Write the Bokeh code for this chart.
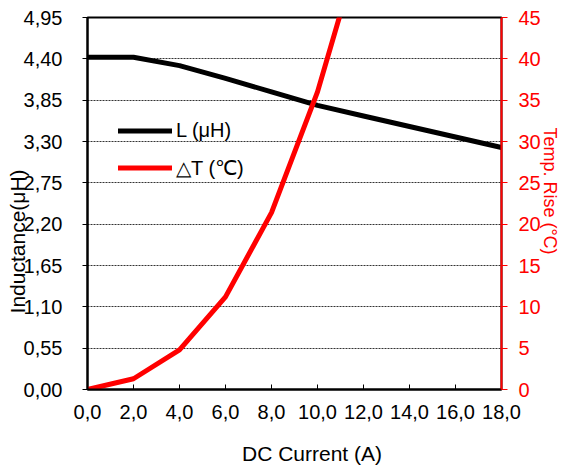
import math
from bokeh.plotting import figure
from bokeh.models import Range1d, LinearAxis, FixedTicker, Legend, LegendItem
from bokeh.embed import file_html
from bokeh.resources import INLINE

# ---- data ----
current = [0, 2, 4, 6, 8, 10, 12, 14, 16, 18]
inductance = [4.42, 4.42, 4.31, 4.14, 3.96, 3.78, 3.64, 3.50, 3.36, 3.22]
temp_current = [0, 2, 4, 6, 8, 10, 12]
temp_rise = [0.0, 1.3, 4.8, 11.2, 21.4, 36.0, 55.0]

x_ticks = [0, 2, 4, 6, 8, 10, 12, 14, 16, 18]
x_tick_labels = ["0,0", "2,0", "4,0", "6,0", "8,0", "10,0", "12,0", "14,0", "16,0", "18,0"]
l_ticks = [0.0, 0.55, 1.1, 1.65, 2.2, 2.75, 3.3, 3.85, 4.4, 4.95]
l_tick_labels = ["0,00", "0,55", "1,10", "1,65", "2,20", "2,75", "3,30", "3,85", "4,40", "4,95"]
t_ticks = [0, 5, 10, 15, 20, 25, 30, 35, 40, 45]
t_tick_labels = ["0", "5", "10", "15", "20", "25", "30", "35", "40", "45"]

FONT = "Liberation Sans"
NB = "\u00a0"

p = figure(
    frame_width=414, frame_height=372,
    min_border_left=87, min_border_right=60, min_border_top=17, min_border_bottom=75,
    x_range=Range1d(0, 18), y_range=Range1d(0, 4.95),
    output_backend="svg", toolbar_location=None,
    background_fill_color="white", border_fill_color="white",
)
p.extra_y_ranges = {"temp": Range1d(0, 45)}

p.outline_line_color = "black"
p.outline_line_width = 2
p.xgrid.visible = False
p.ygrid.ticker = FixedTicker(ticks=l_ticks)
p.ygrid.grid_line_color = "black"
p.ygrid.grid_line_width = 1
p.ygrid.grid_line_dash = "2 1"
p.ygrid.grid_line_alpha = 0.8

# bottom axis
xa = p.xaxis[0]
xa.ticker = FixedTicker(ticks=x_ticks)
xa.major_label_overrides = dict(zip(x_ticks, x_tick_labels))
xa.axis_line_color = "black"
xa.axis_line_width = 2
xa.major_tick_in = 5
xa.major_tick_out = 0
xa.major_tick_line_color = "black"
xa.minor_tick_line_color = None
xa.major_label_standoff = 15
xa.major_label_text_font = FONT
xa.major_label_text_font_size = "20px"
xa.major_label_text_color = "black"
xa.axis_label = NB * 6 + "DC Current (A)"
xa.axis_label_text_font = FONT
xa.axis_label_text_font_size = "21px"
xa.axis_label_text_font_style = "normal"
xa.axis_label_text_color = "black"
xa.axis_label_standoff = 20

# left axis
ya = p.yaxis[0]
ya.ticker = FixedTicker(ticks=l_ticks)
ya.major_label_overrides = dict(zip(l_ticks, l_tick_labels))
ya.axis_line_color = "black"
ya.axis_line_width = 2
ya.major_tick_in = 0
ya.major_tick_out = 5
ya.major_tick_line_color = "black"
ya.minor_tick_line_color = None
ya.major_label_standoff = 20
ya.major_label_text_font = FONT
ya.major_label_text_font_size = "20px"
ya.major_label_text_color = "black"
ya.axis_label = "Inductance(μH)" + NB * 13
ya.axis_label_text_font = FONT
ya.axis_label_text_font_size = "21px"
ya.axis_label_text_font_style = "normal"
ya.axis_label_text_color = "black"
ya.axis_label_standoff = -8

# right axis
ra = LinearAxis(y_range_name="temp", ticker=FixedTicker(ticks=t_ticks))
ra.major_label_overrides = dict(zip(t_ticks, t_tick_labels))
ra.axis_line_color = "red"
ra.axis_line_width = 2
ra.major_tick_in = 0
ra.major_tick_out = 6
ra.major_tick_line_color = "red"
ra.minor_tick_line_color = None
ra.major_label_standoff = 11
ra.major_label_text_font = FONT
ra.major_label_text_font_size = "20px"
ra.major_label_text_color = "red"
ra.axis_label = "Temp. Rise (°C)" + NB * 5
ra.axis_label_text_font = FONT
ra.axis_label_text_font_size = "18px"
ra.axis_label_text_font_style = "normal"
ra.axis_label_text_color = "red"
ra.axis_label_standoff = -4
p.add_layout(ra, "right")

# lines
l_line = p.line(current, inductance, line_color="black", line_width=5,
                line_join="round", line_cap="round")
t_line = p.line(temp_current, temp_rise, y_range_name="temp", line_color="red",
                line_width=5, line_join="round", line_cap="round")

legend = Legend(
    items=[LegendItem(label="L (μH)", renderers=[l_line]),
           LegendItem(label="△T (℃)", renderers=[t_line])],
    location=(31, 203),
    glyph_width=54, glyph_height=37, label_height=37, label_standoff=4,
    spacing=0, padding=0, margin=0,
    border_line_color=None, background_fill_alpha=0,
    label_text_font=FONT, label_text_font_size="20px", label_text_color="black",
)
p.add_layout(legend, "center")

open("out.html", "w").write(file_html(p, INLINE))
